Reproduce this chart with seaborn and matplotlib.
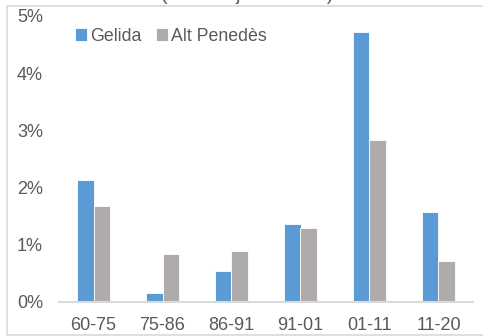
import seaborn as sns
import matplotlib.pyplot as plt
import pandas as pd
from matplotlib.patches import Rectangle

sns.set_style("white")
plt.rcParams['font.family'] = ['Liberation Sans', 'DejaVu Sans']

periods = ["60-75", "75-86", "86-91", "91-01", "01-11", "11-20"]
gelida = [2.14, 0.16, 0.55, 1.36, 4.72, 1.58]
alt_penedes = [1.68, 0.84, 0.90, 1.30, 2.84, 0.72]
series = ["Gelida", "Alt Penedès"]
colors = ["#5B9BD5", "#AFABAB"]

df = pd.DataFrame({
    "period": periods * 2,
    "value": gelida + alt_penedes,
    "serie": [series[0]] * len(periods) + [series[1]] * len(periods),
})

fig = plt.figure(figsize=(4.83, 3.36), dpi=100)
ax = fig.add_axes([59 / 483, 1 - 302 / 336, 414 / 483, 286 / 336])

sns.barplot(data=df, x="period", y="value", hue="serie", palette=colors,
            saturation=1, width=0.47, gap=0, edgecolor="white", linewidth=0.6, ax=ax)

ax.set_ylim(0, 5)
ax.set_xlim(-0.5, 5.5)
ax.set_yticks(range(6))
ax.set_yticklabels([f"{i}%" for i in range(6)])
ax.set_xlabel("")
ax.set_ylabel("")
ax.tick_params(axis="both", length=0, labelsize=13, colors="#595959")
ax.tick_params(axis="y", pad=11.5)
ax.tick_params(axis="x", pad=11)
for s in ["left", "right", "top"]:
    ax.spines[s].set_visible(False)
ax.spines["bottom"].set_color("#D9D9D9")
ax.spines["bottom"].set_linewidth(1.5)

leg = ax.legend(loc="upper left", bbox_to_anchor=(0.0, 1.015), ncol=2, frameon=False,
                handlelength=0.7, handleheight=0.7, handletextpad=0.15,
                columnspacing=0.8, fontsize=12.8)
for t in leg.get_texts():
    t.set_color("#595959")

# cut-off title and chart frame
fig.text(0.512, 1.0, "(taxa mitjana anual)", ha="center", va="baseline",
         fontsize=14, color="#595959")
fig.patches.append(Rectangle((7 / 483, 1 / 336), 1.0, 329 / 336, transform=fig.transFigure,
                             fill=False, edgecolor="#D9D9D9", linewidth=1.2))

fig.savefig("out.png", dpi=100)
